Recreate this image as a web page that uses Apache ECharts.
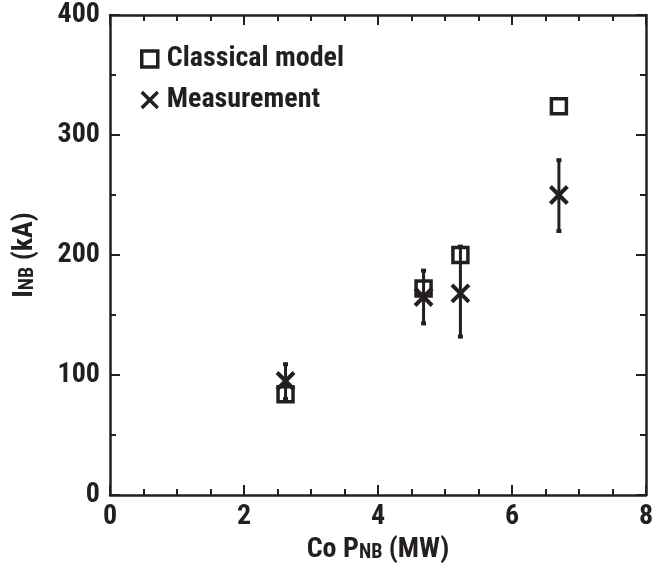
<!DOCTYPE html>
<html>
<head>
<meta charset="utf-8">
<script src="https://cdn.jsdelivr.net/npm/echarts@6/dist/echarts.min.js"></script>
<style>
html,body{margin:0;padding:0;background:#fff;}
#chart{width:672px;height:569px;}
</style>
</head>
<body>
<div id="chart"></div>
<script>
var power = [2.62, 4.68, 5.23, 6.70];
var classical = [84, 172, 200, 324];
var measured = [95, 165, 168, 250];
var errLow = [80, 143, 132, 220];
var errHigh = [109, 187, 207, 279];
var xTicks = [0, 2, 4, 6, 8];
var yTicks = [0, 100, 200, 300, 400];

var FONT = '"Roboto Condensed", "Open Sans Condensed", "Liberation Sans", sans-serif';
var INK = '#231f20';
var CROSS = 'path://M0,0L10,10M0,10L10,0';

var chart = echarts.init(document.getElementById('chart'), null, {renderer: 'canvas'});

var line = {show: true, onZero: false, lineStyle: {color: INK, width: 2.5}};
var tick = {show: true, inside: true, length: 10, lineStyle: {color: INK, width: 2}};
function minor(n) { return {show: true, splitNumber: n, length: 6, lineStyle: {color: INK, width: 2}}; }
var labelFont = {fontFamily: FONT, fontWeight: 'bold', fontSize: 28, color: INK};
var richName = {
  m: {fontFamily: FONT, fontWeight: 'bold', fontSize: 28, lineHeight: 28, color: INK},
  s: {fontFamily: FONT, fontWeight: 'bold', fontSize: 20, lineHeight: 20, color: INK, verticalAlign: 'top', padding: [7, 0, 0, 0]}
};

var option = {
  backgroundColor: '#fff',
  animation: false,
  grid: {left: 110, right: 26, top: 15, bottom: 74, containLabel: false},
  legend: {
    orient: 'vertical',
    left: 135,
    top: 40,
    itemWidth: 16,
    itemHeight: 16,
    itemGap: 13,
    selectedMode: false,
    data: [
      {name: 'Classical model', icon: 'rect', itemStyle: {color: 'rgba(255,255,255,0)', borderColor: INK, borderWidth: 3.5}},
      {name: 'Measurement', icon: CROSS, itemStyle: {color: 'rgba(0,0,0,0)', borderColor: INK, borderWidth: 3.5}}
    ],
    textStyle: {fontFamily: FONT, fontWeight: 'bold', fontSize: 28, lineHeight: 28, color: INK, padding: [0, 0, 0, 4]}
  },
  xAxis: [
    {
      type: 'value', min: 0, max: 8, interval: 2, position: 'bottom',
      axisLine: line, axisTick: tick, minorTick: minor(4), splitLine: {show: false},
      axisLabel: Object.assign({show: true, margin: 8,
        formatter: function (v) { return xTicks.indexOf(v) >= 0 ? String(v) : ''; }}, labelFont),
      name: '{m|Co P}{s|NB}{m| (MW)}',
      nameLocation: 'middle',
      nameGap: 39,
      nameTextStyle: {rich: richName}
    },
    {
      type: 'value', min: 0, max: 8, interval: 2, position: 'top',
      axisLine: line, axisTick: tick, minorTick: minor(4), splitLine: {show: false},
      axisLabel: {show: false}
    }
  ],
  yAxis: [
    {
      type: 'value', min: 0, max: 400, interval: 100, position: 'left',
      axisLine: line, axisTick: tick, minorTick: minor(2), splitLine: {show: false},
      axisLabel: Object.assign({show: true, margin: 10,
        formatter: function (v) { return yTicks.indexOf(v) >= 0 ? String(v) : ''; }}, labelFont),
      name: '{m|I}{s|NB}{m| (kA)}',
      nameLocation: 'middle',
      nameGap: 71,
      nameRotate: 90,
      nameTextStyle: {rich: richName}
    },
    {
      type: 'value', min: 0, max: 400, interval: 100, position: 'right',
      axisLine: line, axisTick: tick, minorTick: minor(2), splitLine: {show: false},
      axisLabel: {show: false}
    }
  ],
  series: [
    {
      name: 'Classical model',
      type: 'scatter',
      xAxisIndex: 0, yAxisIndex: 0,
      symbol: 'rect',
      symbolSize: 15,
      itemStyle: {color: 'rgba(255,255,255,0)', borderColor: INK, borderWidth: 3.5, opacity: 1},
      data: power.map(function (x, i) { return [x, classical[i]]; }),
      z: 3
    },
    {
      name: 'Error',
      type: 'custom',
      xAxisIndex: 0, yAxisIndex: 0,
      data: power.map(function (x, i) { return [x, errLow[i], errHigh[i]]; }),
      renderItem: function (params, api) {
        var lo = api.coord([api.value(0), api.value(1)]);
        var hi = api.coord([api.value(0), api.value(2)]);
        var w = 2.5;
        return {
          type: 'group',
          children: [
            {type: 'line', shape: {x1: lo[0], y1: lo[1], x2: hi[0], y2: hi[1]}, style: {stroke: INK, lineWidth: 3}},
            {type: 'line', shape: {x1: lo[0] - w, y1: lo[1], x2: lo[0] + w, y2: lo[1]}, style: {stroke: INK, lineWidth: 4}},
            {type: 'line', shape: {x1: hi[0] - w, y1: hi[1], x2: hi[0] + w, y2: hi[1]}, style: {stroke: INK, lineWidth: 4}}
          ]
        };
      },
      z: 4
    },
    {
      name: 'Measurement',
      type: 'scatter',
      xAxisIndex: 0, yAxisIndex: 0,
      symbol: CROSS,
      symbolSize: 17,
      itemStyle: {color: 'rgba(0,0,0,0)', borderColor: INK, borderWidth: 4, opacity: 1},
      data: power.map(function (x, i) { return [x, measured[i]]; }),
      z: 5
    }
  ]
};
chart.setOption(option);
</script>
</body>
</html>
